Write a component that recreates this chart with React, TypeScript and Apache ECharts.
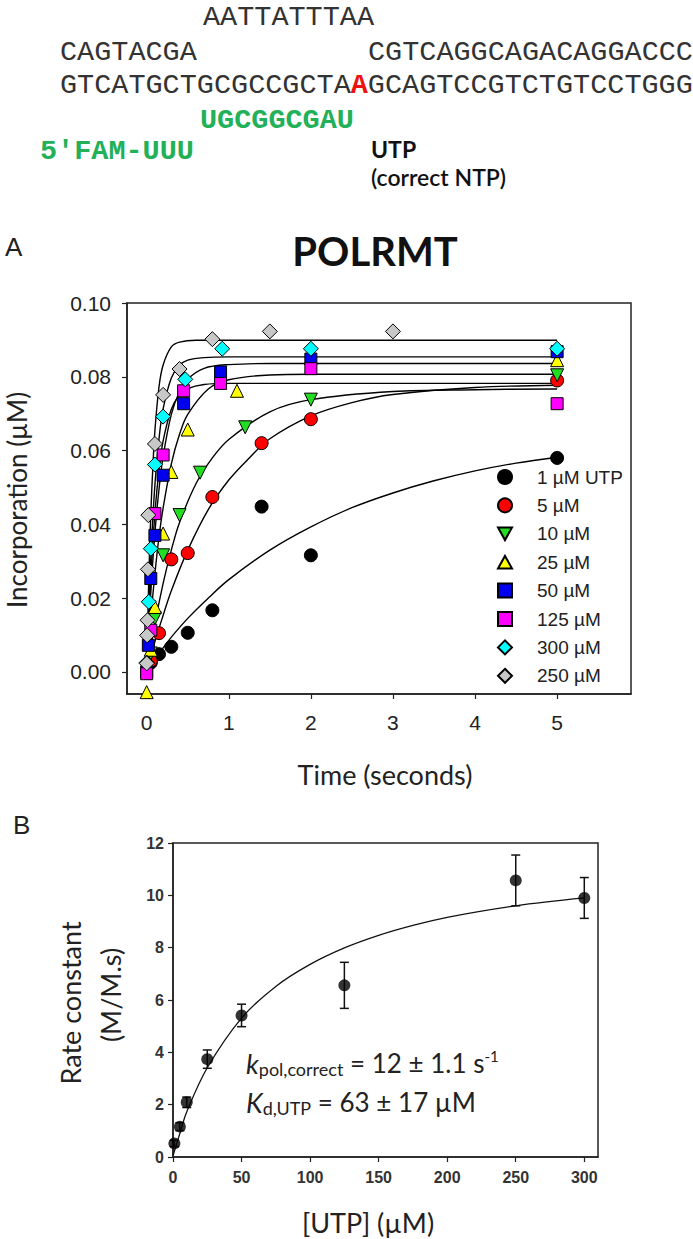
import React, { useEffect, useRef } from 'react';
import * as echarts from 'echarts';

// ---------------- Panel A: incorporation vs time ----------------
const legendNames = ['1 µM UTP', '5 µM', '10 µM', '25 µM', '50 µM', '125 µM', '300 µM', '250 µM'];
const markerColors = ['#000000', '#ff0000', '#22dd22', '#ffff00', '#0000ee', '#ff00ff', '#00ffff', '#c8c8c8'];
const markerShapes = ['circle', 'circle', 'path://M0,0L10,0L5,9Z', 'path://M5,0L10,9L0,9Z', 'rect', 'rect', 'diamond', 'diamond'];
const markerSizes = [13, 13, 13, 13, 12, 12, 15, 15];

const utp1Points = [[0.05, 0.0025], [0.15, 0.0048], [0.3, 0.0068], [0.5, 0.0106], [0.8, 0.0167], [1.4, 0.0448], [2, 0.0316], [5, 0.058]];
const utp5Points = [[0.05, 0.003], [0.15, 0.0105], [0.3, 0.0305], [0.5, 0.0322], [0.8, 0.0474], [1.4, 0.062], [2, 0.0685], [5, 0.079]];
const utp10Points = [[0.05, 0.005], [0.1, 0.0145], [0.2, 0.0316], [0.4, 0.0425], [0.65, 0.054], [1.2, 0.0663], [2, 0.0738], [5, 0.0804]];
const utp25Points = [[0, -0.0055], [0.05, 0.006], [0.1, 0.0176], [0.2, 0.0375], [0.3, 0.0542], [0.5, 0.0657], [1.1, 0.0762], [5, 0.0845]];
const utp50Points = [[0, 0], [0.02, 0.0072], [0.05, 0.0253], [0.1, 0.037], [0.2, 0.0533], [0.45, 0.0727], [0.9, 0.0813], [2, 0.0848], [5, 0.0868]];
const utp125Points = [[0, -0.0005], [0.05, 0.0113], [0.1, 0.0429], [0.2, 0.0588], [0.45, 0.0762], [0.9, 0.0782], [2, 0.0822], [5, 0.0727]];
const utp300Points = [[0, 0.0025], [0.025, 0.019], [0.05, 0.0334], [0.1, 0.0562], [0.2, 0.0692], [0.47, 0.0793], [0.92, 0.0876], [2, 0.0876], [5, 0.0876]];
const utp250Points = [[0, 0.0023], [0.005, 0.0099], [0.01, 0.014], [0.015, 0.0278], [0.02, 0.0425], [0.1, 0.0618], [0.2, 0.0751], [0.4, 0.0821], [0.8, 0.0902], [1.5, 0.0923], [3, 0.0923]];

const utp1Fit = [[0, 0], [0.25, 0.008], [0.5, 0.0145], [0.75, 0.02], [1, 0.025], [1.5, 0.033], [2, 0.0393], [2.5, 0.0445], [3, 0.0485], [3.5, 0.0518], [4, 0.0545], [4.5, 0.0566], [5, 0.0582]];
const utp5Fit = [[0, 0], [0.1, 0.0082], [0.2, 0.0153], [0.3, 0.022], [0.5, 0.033], [0.75, 0.044], [1, 0.052], [1.25, 0.058], [1.5, 0.0632], [2, 0.0694], [2.5, 0.073], [3, 0.0752], [4, 0.0771], [5, 0.0777]];
const utp10Fit = [[0, 0], [0.1, 0.013], [0.2, 0.024], [0.3, 0.033], [0.4, 0.0405], [0.6, 0.051], [0.8, 0.058], [1, 0.063], [1.5, 0.0705], [2, 0.0738], [3, 0.076], [4, 0.0765], [5, 0.0767]];
const utp25Fit = [[0, 0], [0.05, 0.0146], [0.1, 0.0266], [0.15, 0.0366], [0.2, 0.0444], [0.3, 0.0564], [0.4, 0.0644], [0.5, 0.0698], [0.75, 0.0767], [1, 0.0792], [1.5, 0.0805], [2, 0.0807], [3.5, 0.0807], [5, 0.0807]];
const utp50Fit = [[0, 0], [0.05, 0.0215], [0.1, 0.0377], [0.15, 0.0495], [0.2, 0.0584], [0.3, 0.0698], [0.4, 0.076], [0.5, 0.0794], [0.7, 0.0823], [1, 0.0833], [1.5, 0.0836], [3, 0.0836], [5, 0.0836]];
const utp125Fit = [[0, 0], [0.05, 0.0258], [0.1, 0.0431], [0.15, 0.0547], [0.2, 0.0626], [0.3, 0.0712], [0.4, 0.0751], [0.5, 0.0768], [0.7, 0.0779], [1, 0.0782], [3, 0.0782], [5, 0.0782]];
const utp300Fit = [[0, 0], [0.05, 0.031], [0.1, 0.0507], [0.15, 0.0632], [0.2, 0.0713], [0.3, 0.0797], [0.4, 0.0831], [0.5, 0.0845], [0.7, 0.0852], [1, 0.0854], [3, 0.0854], [5, 0.0854]];
const utp250Fit = [[0, 0], [0.025, 0.025], [0.05, 0.0429], [0.075, 0.0556], [0.1, 0.0654], [0.15, 0.0773], [0.2, 0.0832], [0.3, 0.0881], [0.4, 0.0894], [0.6, 0.0899], [2, 0.0899], [5, 0.0899]];

const pointSets = [utp1Points, utp5Points, utp10Points, utp25Points, utp50Points, utp125Points, utp300Points, utp250Points];
const fitSets = [utp1Fit, utp5Fit, utp10Fit, utp25Fit, utp50Fit, utp125Fit, utp300Fit, utp250Fit];

const timeTicks = [0, 1, 2, 3, 4, 5];
const incorporationTicks = [0, 0.02, 0.04, 0.06, 0.08, 0.1];

// ---------------- Panel B: rate constant vs [UTP] ----------------
const utpConc = [1, 5, 10, 25, 50, 125, 250, 300];
const rateConst = [0.52, 1.16, 2.09, 3.74, 5.41, 6.56, 10.57, 9.9];
const rateErr = [0.12, 0.15, 0.2, 0.35, 0.43, 0.88, 0.97, 0.78];
const fitConc = [0, 5, 10, 25, 50, 75, 100, 125, 150, 175, 200, 250, 300];
const fitRate = [0.05, 0.9, 1.72, 3.41, 5.31, 6.52, 7.36, 7.99, 8.47, 8.85, 9.16, 9.6, 9.9];
const concTicks = [0, 50, 100, 150, 200, 250, 300];
const rateTicks = [0, 2, 4, 6, 8, 10, 12];

const MONO = "'Liberation Mono', 'DejaVu Sans Mono', monospace";
const SANS = "Lato, 'Open Sans', sans-serif";
const ARIAL = "'Liberation Sans', Arial, sans-serif";

export default function App() {
  const ref = useRef<HTMLDivElement>(null);
  useEffect(() => {
    if (!ref.current) return;
    const chart = echarts.init(ref.current, null, { renderer: 'svg' });

    const scatterSeries = pointSets.map((pts, i) => ({
      type: 'scatter',
      name: legendNames[i],
      xAxisIndex: 0,
      yAxisIndex: 0,
      data: pts,
      symbol: markerShapes[i],
      symbolSize: markerSizes[i],
      itemStyle: { color: markerColors[i], borderColor: '#000', borderWidth: 1, opacity: 1 },
      z: 3,
    }));
    const fitSeries = fitSets.map((pts, i) => ({
      type: 'line',
      name: 'fit' + i,
      xAxisIndex: 0,
      yAxisIndex: 0,
      data: pts,
      showSymbol: false,
      symbol: 'none',
      smooth: 0.35,
      lineStyle: { color: '#000', width: 1.4 },
      z: 2,
      silent: true,
    }));

    const errRows = utpConc.map((c, i) => [c, rateConst[i] - rateErr[i], rateConst[i] + rateErr[i]]);

    const axisCommon = {
      axisLine: { show: true, onZero: false, lineStyle: { color: '#222', width: 1.5 } },
      axisTick: { show: true, inside: false, length: 5, lineStyle: { color: '#222', width: 1.2 } },
      splitLine: { show: false },
    };

    const option: any = {
      animation: false,
      backgroundColor: '#fff',
      grid: [
        { left: 127, top: 303, width: 504, height: 391, show: true, borderColor: '#222', borderWidth: 1.5, backgroundColor: 'transparent' },
        { left: 173, top: 843, width: 425, height: 314, show: true, borderColor: '#222', borderWidth: 1.5, backgroundColor: 'transparent' },
      ],
      xAxis: [
        {
          type: 'value', gridIndex: 0, min: -0.24, max: 5.9, ...axisCommon,
          axisTick: { ...axisCommon.axisTick, customValues: timeTicks },
          axisLabel: { customValues: timeTicks, margin: 18, fontFamily: ARIAL, fontSize: 21, color: '#222' },
        },
        {
          type: 'value', gridIndex: 1, min: 0, max: 310, ...axisCommon,
          axisTick: { ...axisCommon.axisTick, customValues: concTicks },
          axisLabel: { customValues: concTicks, margin: 12, fontFamily: ARIAL, fontSize: 16, fontWeight: 'bold', color: '#333' },
        },
      ],
      yAxis: [
        {
          type: 'value', gridIndex: 0, min: -0.006, max: 0.1, ...axisCommon,
          axisTick: { ...axisCommon.axisTick, customValues: incorporationTicks },
          axisLabel: { customValues: incorporationTicks, margin: 16, fontFamily: ARIAL, fontSize: 21, color: '#222', formatter: (v: number) => v.toFixed(2) },
        },
        {
          type: 'value', gridIndex: 1, min: 0, max: 12, ...axisCommon,
          axisTick: { ...axisCommon.axisTick, customValues: rateTicks },
          axisLabel: { customValues: rateTicks, margin: 9, fontFamily: ARIAL, fontSize: 16, fontWeight: 'bold', color: '#333' },
        },
      ],
      legend: {
        data: legendNames,
        orient: 'vertical',
        left: 492,
        top: 462,
        itemWidth: 14,
        itemHeight: 14,
        itemGap: 8.4,
        selectedMode: false,
        textStyle: { fontFamily: ARIAL, fontSize: 19, color: '#222', lineHeight: 20, padding: [0, 0, 0, 20] },
      },
      series: [
        ...fitSeries,
        ...scatterSeries,
        {
          type: 'line',
          name: 'rateFit',
          xAxisIndex: 1,
          yAxisIndex: 1,
          data: fitConc.map((c, i) => [c, fitRate[i]]),
          showSymbol: false,
          symbol: 'none',
          smooth: 0.35,
          lineStyle: { color: '#111', width: 1.3 },
          z: 2,
        },
        {
          type: 'custom',
          name: 'rateErr',
          xAxisIndex: 1,
          yAxisIndex: 1,
          data: errRows,
          encode: { x: 0, y: [1, 2] },
          z: 3,
          renderItem: (params: any, api: any) => {
            const x = api.value(0);
            const lo = api.coord([x, api.value(1)]);
            const hi = api.coord([x, api.value(2)]);
            const w = 4.5;
            const st = { stroke: '#111', lineWidth: 1.5 };
            return {
              type: 'group',
              children: [
                { type: 'line', shape: { x1: lo[0], y1: lo[1], x2: hi[0], y2: hi[1] }, style: st },
                { type: 'line', shape: { x1: lo[0] - w, y1: lo[1], x2: lo[0] + w, y2: lo[1] }, style: st },
                { type: 'line', shape: { x1: hi[0] - w, y1: hi[1], x2: hi[0] + w, y2: hi[1] }, style: st },
              ],
            };
          },
        },
        {
          type: 'scatter',
          name: 'rate',
          xAxisIndex: 1,
          yAxisIndex: 1,
          data: utpConc.map((c, i) => [c, rateConst[i]]),
          symbol: 'circle',
          symbolSize: 12,
          itemStyle: { color: '#000' },
          z: 4,
        },
      ],
      graphic: [
        // DNA/RNA scaffold
        { type: 'text', x: 203, y: 17, style: { text: 'AATTATTTAA', fontFamily: MONO, fontSize: 28.5, fill: '#333', verticalAlign: 'middle' } },
        { type: 'text', x: 60, y: 52, style: { text: 'CAGTACGA', fontFamily: MONO, fontSize: 28.5, fill: '#333', verticalAlign: 'middle' } },
        { type: 'text', x: 368, y: 52, style: { text: 'CGTCAGGCAGACAGGACCC', fontFamily: MONO, fontSize: 28.5, fill: '#333', verticalAlign: 'middle' } },
        {
          type: 'text', x: 60, y: 85,
          style: {
            text: '{k|GTCATGCTGCGCCGCTA}{r|A}{k|GCAGTCCGTCTGTCCTGGG}',
            verticalAlign: 'middle',
            rich: {
              k: { fontFamily: MONO, fontSize: 28.5, fill: '#333' },
              r: { fontFamily: MONO, fontSize: 28.5, fill: '#ee1111', fontWeight: 'bold' },
            },
          },
        },
        { type: 'text', x: 200, y: 120, style: { text: 'UGCGGCGAU', fontFamily: MONO, fontSize: 28.5, fontWeight: 'bold', fill: '#22b058', verticalAlign: 'middle' } },
        { type: 'text', x: 40, y: 151, style: { text: "5'FAM-UUU", fontFamily: MONO, fontSize: 28.5, fontWeight: 'bold', fill: '#22b058', verticalAlign: 'middle' } },
        { type: 'text', x: 371, y: 149, style: { text: 'UTP', fontFamily: SANS, fontSize: 23, fontWeight: 'bold', fill: '#111', verticalAlign: 'middle' } },
        { type: 'text', x: 371, y: 177, style: { text: '(correct NTP)', fontFamily: SANS, fontSize: 23, fontWeight: 600, fill: '#111', verticalAlign: 'middle' } },
        // Panel labels and titles
        { type: 'text', x: 5, y: 247, style: { text: 'A', fontFamily: ARIAL, fontSize: 26, fill: '#222', verticalAlign: 'middle' } },
        { type: 'text', x: 375, y: 251, style: { text: 'POLRMT', fontFamily: SANS, fontSize: 40, fontWeight: 'bold', fill: '#111', align: 'center', verticalAlign: 'middle' } },
        { type: 'text', x: 17, y: 500, rotation: Math.PI / 2, style: { text: 'Incorporation (µM)', fontFamily: SANS, fontSize: 26, fill: '#222', align: 'center', verticalAlign: 'middle' } },
        { type: 'text', x: 385, y: 774, style: { text: 'Time (seconds)', fontFamily: SANS, fontSize: 27, fill: '#222', align: 'center', verticalAlign: 'middle' } },
        { type: 'text', x: 13, y: 825, style: { text: 'B', fontFamily: ARIAL, fontSize: 26, fill: '#222', verticalAlign: 'middle' } },
        { type: 'text', x: 70, y: 1003, rotation: Math.PI / 2, style: { text: 'Rate constant', fontFamily: SANS, fontSize: 27, fill: '#222', align: 'center', verticalAlign: 'middle' } },
        { type: 'text', x: 110, y: 995, rotation: Math.PI / 2, style: { text: '(M/M.s)', fontFamily: SANS, fontSize: 27, fill: '#222', align: 'center', verticalAlign: 'middle' } },
        { type: 'text', x: 368, y: 1222, style: { text: '[UTP] (µM)', fontFamily: SANS, fontSize: 27, fill: '#222', align: 'center', verticalAlign: 'middle' } },
        {
          type: 'text', x: 246, y: 1063,
          style: {
            text: '{i|k}{s|pol,correct}{n| = 12 ± 1.1 s}{p|-1}',
            verticalAlign: 'middle',
            rich: {
              i: { fontFamily: SANS, fontSize: 27, fontStyle: 'italic', fill: '#222', lineHeight: 30, verticalAlign: 'middle' },
              s: { fontFamily: SANS, fontSize: 18, fill: '#222', lineHeight: 14, verticalAlign: 'bottom' },
              n: { fontFamily: SANS, fontSize: 26, fill: '#222', lineHeight: 30, verticalAlign: 'middle' },
              p: { fontFamily: SANS, fontSize: 15, fill: '#222', lineHeight: 14, verticalAlign: 'top' },
            },
          },
        },
        {
          type: 'text', x: 246, y: 1102,
          style: {
            text: '{i|K}{s|d,UTP}{n| = 63 ± 17 µM}',
            verticalAlign: 'middle',
            rich: {
              i: { fontFamily: SANS, fontSize: 27, fontStyle: 'italic', fill: '#222', lineHeight: 30, verticalAlign: 'middle' },
              s: { fontFamily: SANS, fontSize: 18, fill: '#222', lineHeight: 14, verticalAlign: 'bottom' },
              n: { fontFamily: SANS, fontSize: 26, fill: '#222', lineHeight: 30, verticalAlign: 'middle' },
            },
          },
        },
      ],
    };

    chart.setOption(option);
    return () => chart.dispose();
  }, []);

  return <div ref={ref} style={{ position: 'absolute', left: 0, top: 0, width: 693, height: 1239 }} />;
}
